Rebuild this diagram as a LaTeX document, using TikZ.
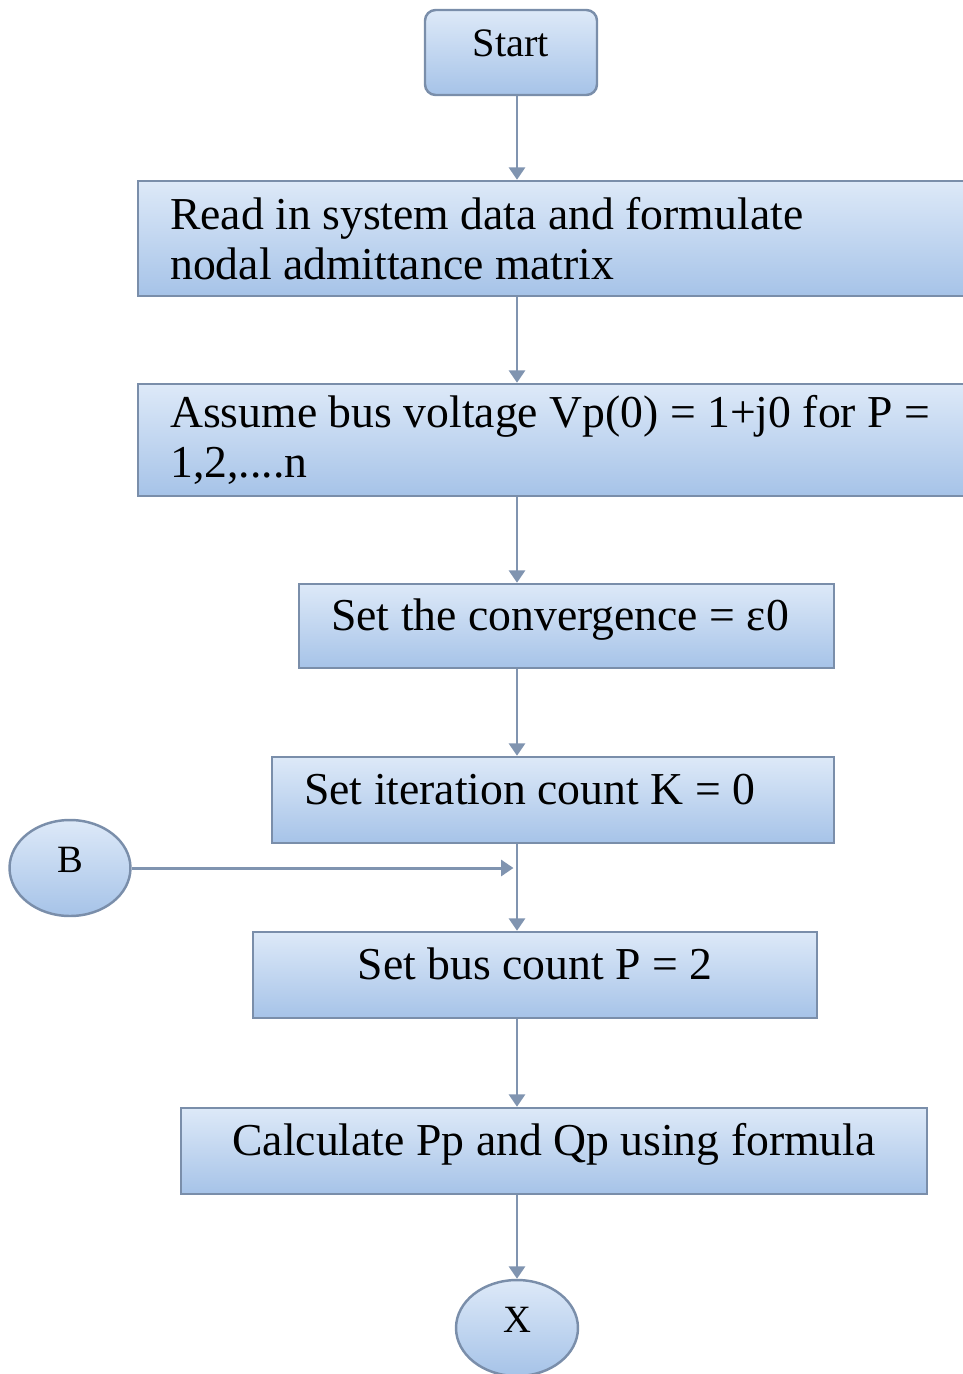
\documentclass[tikz,border=0pt]{standalone}
\usepackage{fontspec}
\setmainfont{Liberation Serif}
\usetikzlibrary{arrows.meta,shapes.geometric}
\definecolor{boxtop}{RGB}{221,233,248}
\definecolor{boxbot}{RGB}{166,195,232}
\definecolor{edgec}{RGB}{122,142,170}
\definecolor{flowc}{RGB}{128,148,176}

\begin{document}
\begin{tikzpicture}[x=0.02cm,y=-0.02cm,
    box/.style={draw=edgec,line width=1.4pt,top color=boxtop,bottom color=boxbot,inner xsep=0.64cm,inner ysep=0pt,font=\fontsize{26}{28.5}\selectfont},
    one/.style={text height=17pt,text depth=12pt},
    blob/.style={box,ellipse,inner sep=0pt,font=\fontsize{22}{24}\selectfont},
    flow/.style={draw=flowc,line width=1.7pt,-{Triangle[width=9pt,length=7pt]}}]
    \useasboundingbox (0,0) rectangle (963,1374);
    \clip (0,0) rectangle (963,1374);
    \coordinate (trunk) at (517,0);
    \node[box,one,rounded corners=6pt,minimum width=3.44cm,minimum height=1.7cm,font=\fontsize{23}{26}\selectfont] (start) at (511,52.5) {Start};
    \node[box,text width=16cm,align=flush left,minimum height=2.3cm,anchor=west] (read) at (137,238.5) {Read in system data and formulate\\nodal admittance matrix};
    \node[box,text width=16cm,align=flush left,minimum height=2.24cm,anchor=west] (assume) at (137,440) {Assume bus voltage Vp(0) = 1+j0 for P =\\1,2,....n};
    \node[box,one,minimum height=1.68cm,anchor=west] (conv) at (298,626) {\makebox[9.42cm][l]{Set the convergence = ε0}};
    \node[box,one,minimum height=1.72cm,anchor=west] (iter) at (271,800) {\makebox[9.96cm][l]{Set iteration count K = 0}};
    \node[blob,one,minimum width=2.42cm,minimum height=1.92cm] (bee) at (70,868) {B};
    \node[box,one,minimum width=11.28cm,minimum height=1.72cm] (bus) at (535,975) {Set bus count P = 2};
    \node[box,one,minimum width=14.92cm,minimum height=1.72cm] (calc) at (554,1151) {Calculate Pp and Qp using formula};
    \node[blob,one,minimum width=2.44cm,minimum height=1.92cm] (ex) at (517,1328) {X};
    \draw[flow] (start.south -| trunk) -- (read.north -| trunk);
    \draw[flow] (read.south -| trunk) -- (assume.north -| trunk);
    \draw[flow] (assume.south -| trunk) -- (conv.north -| trunk);
    \draw[flow] (conv.south -| trunk) -- (iter.north -| trunk);
    \draw[flow] (iter.south -| trunk) -- (bus.north -| trunk);
    \draw[flow,shorten >=2pt] (bee.east) -- (bee.east -| trunk);
    \draw[flow] (bus.south -| trunk) -- (calc.north -| trunk);
    \draw[flow] (calc.south -| trunk) -- (ex.north -| trunk);
\end{tikzpicture}
\end{document}
